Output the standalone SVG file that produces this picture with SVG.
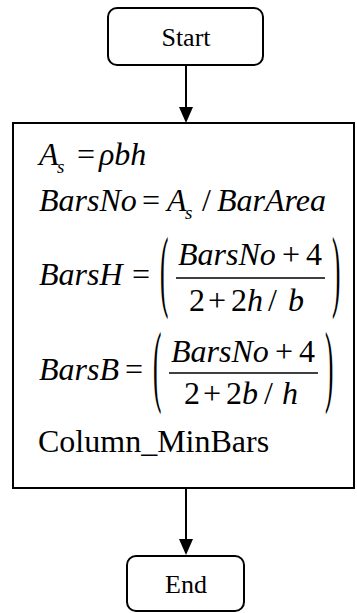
<svg xmlns="http://www.w3.org/2000/svg" width="357" height="613" viewBox="0 0 357 613">
<style>
.box{fill:#fff;stroke:#000;stroke-width:2}
.term{fill:#fff;stroke:#000;stroke-width:2}
.conn{fill:none;stroke:#000;stroke-width:2}
text{font-family:'Liberation Serif','Times New Roman',Times,'DejaVu Serif',serif;fill:#000}
.lbl{font-size:26px;text-anchor:middle}
.mi{font-size:32px;font-style:italic}
.mr{font-size:32px}
.sub{font-size:19px;font-style:italic}
.par{font-size:90px}
.frac{stroke:#000;stroke-width:1.5}
</style>
<defs>
<marker id="arr" viewBox="0 0 16 14" refX="8" refY="7" markerWidth="16" markerHeight="14" markerUnits="userSpaceOnUse" orient="auto">
<path d="M0,0 L16,7 L0,14 z" fill="#000"/>
</marker>
</defs>
<g id="connectors">
<line class="conn" x1="186" y1="65" x2="186" y2="115" marker-end="url(#arr)"/>
<line class="conn" x1="186" y1="479" x2="186" y2="547" marker-end="url(#arr)"/>
</g>
<g id="start" font-family="Liberation Serif, serif">
<rect class="term" x="108" y="8" width="155" height="57" rx="9"/>
<text class="lbl" x="186" y="46">Start</text>
</g>
<g id="process" font-family="Liberation Serif, serif">
<rect class="box" x="13" y="123" width="341" height="365"/>
<text class="mi" x="39" y="165">A</text>
<text class="sub" x="57" y="173">s</text>
<text class="mr" x="77" y="165">=</text>
<text class="mi" x="99" y="165">ρbh</text>

<text class="mi" x="39" y="211">BarsNo</text>
<text class="mr" x="142" y="211">=</text>
<text class="mi" x="167" y="211">A</text>
<text class="sub" x="185" y="219">s</text>
<text class="mr" x="202" y="211">/</text>
<text class="mi" x="217" y="211">BarArea</text>

<text class="mi" x="39" y="285">BarsH</text>
<text class="mr" x="132" y="285">=</text>
<text class="par" transform="translate(160,300) scale(0.28,1)">(</text>
<text class="mi" x="178" y="265">BarsNo</text>
<text class="mr" x="282" y="265">+</text>
<text class="mr" x="306" y="265">4</text>
<line class="frac" x1="176" y1="278" x2="325" y2="278"/>
<text class="mr" x="189" y="311">2</text>
<text class="mr" x="208" y="311">+</text>
<text class="mr" x="231" y="311">2</text>
<text class="mi" x="247" y="311">h</text>
<text class="mr" x="268" y="311">/</text>
<text class="mi" x="288" y="311">b</text>
<text class="par" transform="translate(332,300) scale(0.28,1)">)</text>

<text class="mi" x="39" y="380">BarsB</text>
<text class="mr" x="125" y="380">=</text>
<text class="par" transform="translate(153,395) scale(0.28,1)">(</text>
<text class="mi" x="171" y="362">BarsNo</text>
<text class="mr" x="275" y="362">+</text>
<text class="mr" x="299" y="362">4</text>
<line class="frac" x1="169" y1="373" x2="318" y2="373"/>
<text class="mr" x="184" y="404">2</text>
<text class="mr" x="203" y="404">+</text>
<text class="mr" x="226" y="404">2</text>
<text class="mi" x="242" y="404">b</text>
<text class="mr" x="264" y="404">/</text>
<text class="mi" x="282" y="404">h</text>
<text class="par" transform="translate(325,395) scale(0.28,1)">)</text>

<text class="mr" x="38" y="452">Column_MinBars</text>
</g>
<g id="end" font-family="Liberation Serif, serif">
<rect class="term" x="127" y="556" width="117" height="55" rx="9"/>
<text class="lbl" x="186" y="593">End</text>
</g>
</svg>
